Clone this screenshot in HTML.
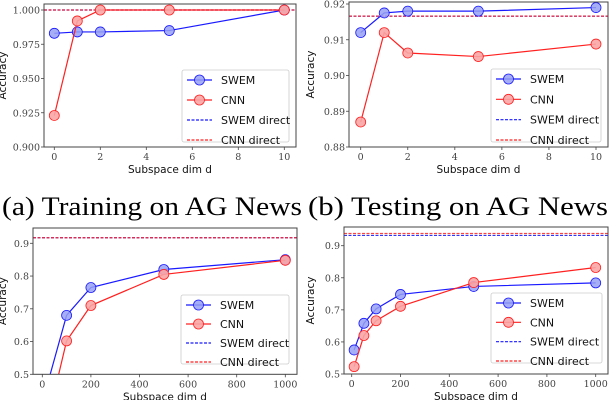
<!DOCTYPE html>
<html><head><meta charset="utf-8"><style>
html,body{margin:0;padding:0;background:#fff;overflow:hidden;width:610px;height:400px;}
svg{display:block;}
text{font-family:"DejaVu Sans","Liberation Sans",sans-serif;}
.cap{font-family:"Liberation Serif",serif;}
</style></head><body>
<svg id="fig" width="610" height="400" viewBox="0 0 610 400" xmlns="http://www.w3.org/2000/svg" overflow="hidden">
<text class="cap" x="2" y="215" font-size="26" textLength="300" lengthAdjust="spacingAndGlyphs">(a) Training on AG News</text>
<text class="cap" x="308" y="215" font-size="26" textLength="300" lengthAdjust="spacingAndGlyphs">(b) Testing on AG News</text>
</svg>
<script>
// Panel (a) Training AG News
const xA=[0,1,2,5,10];
const swemA=[0.983,0.984,0.984,0.985,1.0];
const cnnA=[0.923,0.992,1.0,1.0,1.0];
const swemDirA=1.0, cnnDirA=1.0;
const yTicksA=[0.900,0.925,0.950,0.975,1.000];
const yLabA=["0.900","0.925","0.950","0.975","1.000"];
const xTicksA=[0,2,4,6,8,10];
// Panel (b) Testing AG News
const xB=[0,1,2,5,10];
const swemB=[0.912,0.9175,0.918,0.918,0.919];
const cnnB=[0.887,0.912,0.9063,0.9053,0.9088];
const swemDirB=0.9166, cnnDirB=0.9166;
const yTicksB=[0.88,0.89,0.90,0.91,0.92];
const yLabB=["0.88","0.89","0.90","0.91","0.92"];
const xTicksB=[0,2,4,6,8,10];
// Panel (c)
const xC=[10,100,200,500,1000];
const swemC=[0.44,0.68,0.765,0.82,0.85];
const cnnC=[0.32,0.602,0.71,0.805,0.848];
const swemDirC=0.917, cnnDirC=0.917;
const yTicksC=[0.5,0.6,0.7,0.8,0.9];
const yLabC=["0.5","0.6","0.7","0.8","0.9"];
const xTicksC=[0,200,400,600,800,1000];
// Panel (d)
const xD=[10,50,100,200,500,1000];
const swemD=[0.575,0.658,0.703,0.748,0.773,0.784];
const cnnD=[0.523,0.62,0.666,0.711,0.785,0.832];
const swemDirD=0.932, cnnDirD=0.938;
const yTicksD=[0.5,0.6,0.7,0.8,0.9];
const yLabD=["0.5","0.6","0.7","0.8","0.9"];
const xTicksD=[0,200,400,600,800,1000];

const NS="http://www.w3.org/2000/svg";
const svg=document.getElementById('fig');
function mk(tag,attrs,parent){const e=document.createElementNS(NS,tag);for(const k in attrs)e.setAttribute(k,attrs[k]);(parent||svg).appendChild(e);return e;}

function panel(id,cfg){
  const g=mk('g',{});
  
  
  const sx=v=>cfg.px0+(v-cfg.x0)*(cfg.px1-cfg.px0)/(cfg.x1-cfg.x0);
  const sy=v=>cfg.py0+(v-cfg.y0)*(cfg.py1-cfg.py0)/(cfg.y1-cfg.y0);
  const cp=mk('clipPath',{id:'clip'+id},g);
  mk('rect',{x:cfg.L,y:cfg.T,width:cfg.R-cfg.L,height:cfg.B-cfg.T},cp);
  const sd=mk('line',{x1:cfg.L,x2:cfg.R,y1:sy(cfg.sdir),y2:sy(cfg.sdir),stroke:'#3333ff','stroke-width':1.2,'stroke-dasharray':'3,1.5'},g);
  
  
  const cd=mk('line',{x1:cfg.L,x2:cfg.R,y1:sy(cfg.cdir),y2:sy(cfg.cdir),stroke:'#ff2222','stroke-width':1.2,'stroke-dasharray':'3,1.5','opacity':0.85},g);
  
  
  const series=[[cfg.swem,'#1a1aff','rgba(150,160,245,0.85)','swem'],[cfg.cnn,'#ff2020','rgba(250,165,165,0.9)','cnn']];
  for(const [ys,col,fill,nm] of series){
    const sg=mk('g',{'clip-path':'url(#clip'+id+')'},g);
    
    
    const pts=cfg.xs.map((x,i)=>sx(x)+','+sy(ys[i])).join(' ');
    mk('polyline',{points:pts,fill:'none',stroke:col,'stroke-width':1.2},sg);
    cfg.xs.forEach((x,i)=>{
      const c=mk('circle',{cx:sx(x),cy:sy(ys[i]),r:5,fill:fill,stroke:col,'stroke-width':0.8},sg);
      
      
    });
  }
  const fr=mk('rect',{x:cfg.L,y:cfg.T,width:cfg.R-cfg.L,height:cfg.B-cfg.T,fill:'none',stroke:'#444','stroke-width':1},g);
  
  
  cfg.yt.forEach((v,i)=>{
    const y=sy(v);
    mk('line',{x1:cfg.L-3,x2:cfg.L,y1:y,y2:y,stroke:'#444','stroke-width':0.8},g);
    const t=mk('text',{x:cfg.L-4,y:y+3.5,'font-size':9.5,'text-anchor':'end',fill:'#444',style:"font-family:'DejaVu Serif','Liberation Serif',serif"},g);
    t.textContent=cfg.yl[i];
    
    
  });
  cfg.xt.forEach(v=>{
    const x=sx(v);
    mk('line',{x1:x,x2:x,y1:cfg.B,y2:cfg.B+3,stroke:'#444','stroke-width':0.8},g);
    const t=mk('text',{x:x,y:cfg.B+13,'font-size':9.5,'text-anchor':'middle',fill:'#444',style:"font-family:'DejaVu Serif','Liberation Serif',serif"},g);
    t.textContent=String(v);
    
    
  });
  const xl=mk('text',{x:(cfg.L+cfg.R)/2,y:cfg.B+26,'font-size':10.5,'text-anchor':'middle',fill:'#111'},g);
  xl.textContent='Subspace dim d';
  
  
  const yl=mk('text',{x:0,y:0,'font-size':10.5,'text-anchor':'middle',fill:'#111',transform:'translate('+cfg.ylx+','+(cfg.T+cfg.B)/2+') rotate(-90)'},g);
  yl.textContent='Accuracy';
  
  
  const lg=mk('g',{},g);
  
  
  const lb=cfg.leg;
  mk('rect',{x:lb[0],y:lb[1],width:lb[2]-lb[0],height:lb[3]-lb[1],fill:'rgba(255,255,255,0.85)',stroke:'#ccc','stroke-width':0.8,rx:2},lg);
  const names=['SWEM','CNN','SWEM direct','CNN direct'];
  const step=(lb[3]-lb[1]-12)/3;
  names.forEach((n,i)=>{
    const y=lb[1]+10+step*i;
    const col=i%2===0?'#1a1aff':'#ff2020';
    const e=mk('g',{},lg);
    
    
    mk('line',{x1:lb[0]+5,x2:lb[0]+30,y1:y,y2:y,stroke:col,'stroke-width':1.2,'stroke-dasharray':i>=2?'3,1.5':'none'},e);
    if(i<2) mk('circle',{cx:lb[0]+17.5,cy:y,r:5,fill:i===0?'rgba(150,160,245,0.85)':'rgba(250,165,165,0.9)',stroke:col,'stroke-width':0.8},e);
    const t=mk('text',{x:lb[0]+39,y:y+4,'font-size':11,fill:'#111'},e);
    t.textContent=n;
  });
}
panel('a',{L:44,R:296,T:4,B:147,x0:0,x1:10,px0:54.3,px1:284.3,y0:0.9,y1:1.0,py0:147,py1:10,
  xs:xA,swem:swemA,cnn:cnnA,sdir:swemDirA,cdir:cnnDirA,yt:yTicksA,yl:yLabA,xt:xTicksA,ylx:6,leg:[182,70,289,142]});
panel('b',{L:349,R:608,T:2,B:147,x0:0,x1:10,px0:360.7,px1:596,y0:0.88,y1:0.92,py0:147,py1:4,
  xs:xB,swem:swemB,cnn:cnnB,sdir:swemDirB,cdir:cnnDirB,yt:yTicksB,yl:yLabB,xt:xTicksB,ylx:314,leg:[491,69,601,142]});
panel('c',{L:33,R:297,T:228,B:374.3,x0:0,x1:1000,px0:42.3,px1:285.3,y0:0.5,y1:0.9,py0:374.3,py1:243.3,
  xs:xC,swem:swemC,cnn:cnnC,sdir:swemDirC,cdir:cnnDirC,yt:yTicksC,yl:yLabC,xt:xTicksC,ylx:6,leg:[181,295,289,364]});
panel('d',{L:344,R:608,T:227,B:374,x0:0,x1:1000,px0:351.7,px1:595.7,y0:0.5,y1:0.9,py0:374,py1:245.7,
  xs:xD,swem:swemD,cnn:cnnD,sdir:swemDirD,cdir:cnnDirD,yt:yTicksD,yl:yLabD,xt:xTicksD,ylx:314,leg:[491,293,602,363]});
</script>
</body></html>
